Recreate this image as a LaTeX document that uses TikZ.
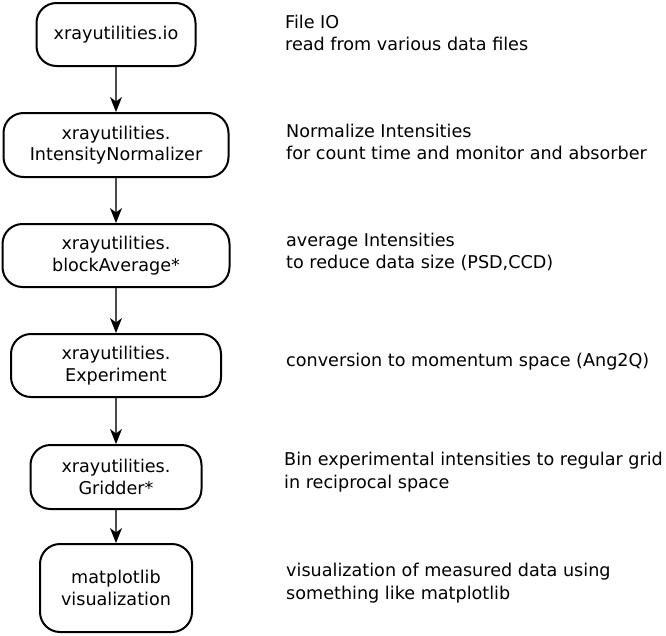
\documentclass[tikz,border=0pt]{standalone}
\usepackage{fontspec}
\setmainfont{DejaVu Sans}
\usetikzlibrary{arrows.meta}
\begin{document}
\begin{tikzpicture}[x=1pt,y=-1pt,
  stepbox/.style={draw=black, line width=2pt, rounded corners=20pt, fill=white,
    align=center, inner sep=0pt, font=\fontsize{17.6}{21.5}\selectfont},
  desc/.style={anchor=west, align=left, inner sep=0pt, font=\fontsize{17.6}{22.5}\selectfont},
  flow/.style={draw=black!70, line width=1.3pt, -{Stealth[length=15pt,width=12pt,inset=4.5pt,black]}}
]
\useasboundingbox (0,0) rectangle (666,635);
\node[stepbox, minimum width=159pt, minimum height=63pt] (b1) at (116,34.5) {xrayutilities.io};
\node[stepbox, minimum width=225pt, minimum height=64pt] (b2) at (116,145) {xrayutilities.\\IntensityNormalizer};
\node[stepbox, minimum width=227pt, minimum height=63pt] (b3) at (116,255.5) {xrayutilities.\\blockAverage*};
\node[stepbox, minimum width=210pt, minimum height=63pt] (b4) at (116,365.5) {xrayutilities.\\Experiment};
\node[stepbox, minimum width=171pt, minimum height=64pt] (b5) at (116,477) {xrayutilities.\\Gridder*};
\node[stepbox, minimum width=152pt, minimum height=88pt] (b6) at (116,588) {matplotlib\\visualization};
\draw[flow] (b1) -- (b2);
\draw[flow] (b2) -- (b3);
\draw[flow] (b3) -- (b4);
\draw[flow] (b4) -- (b5);
\draw[flow] (b5) -- (b6);
\node[desc] (t1) at (285,33) {File IO\\read from various data files};
\node[desc] (t2) at (286,142) {Normalize Intensities\\for count time and monitor and absorber};
\node[desc] (t3) at (286,252) {average Intensities\\to reduce data size (PSD,CCD)};
\node[desc] (t4) at (286,362) {conversion to momentum space (Ang2Q)};
\node[desc] (t5) at (284,472) {Bin experimental intensities to regular grid\\in reciprocal space};
\node[desc] (t6) at (286,583) {visualization of measured data using\\something like matplotlib};
\end{tikzpicture}
\end{document}
